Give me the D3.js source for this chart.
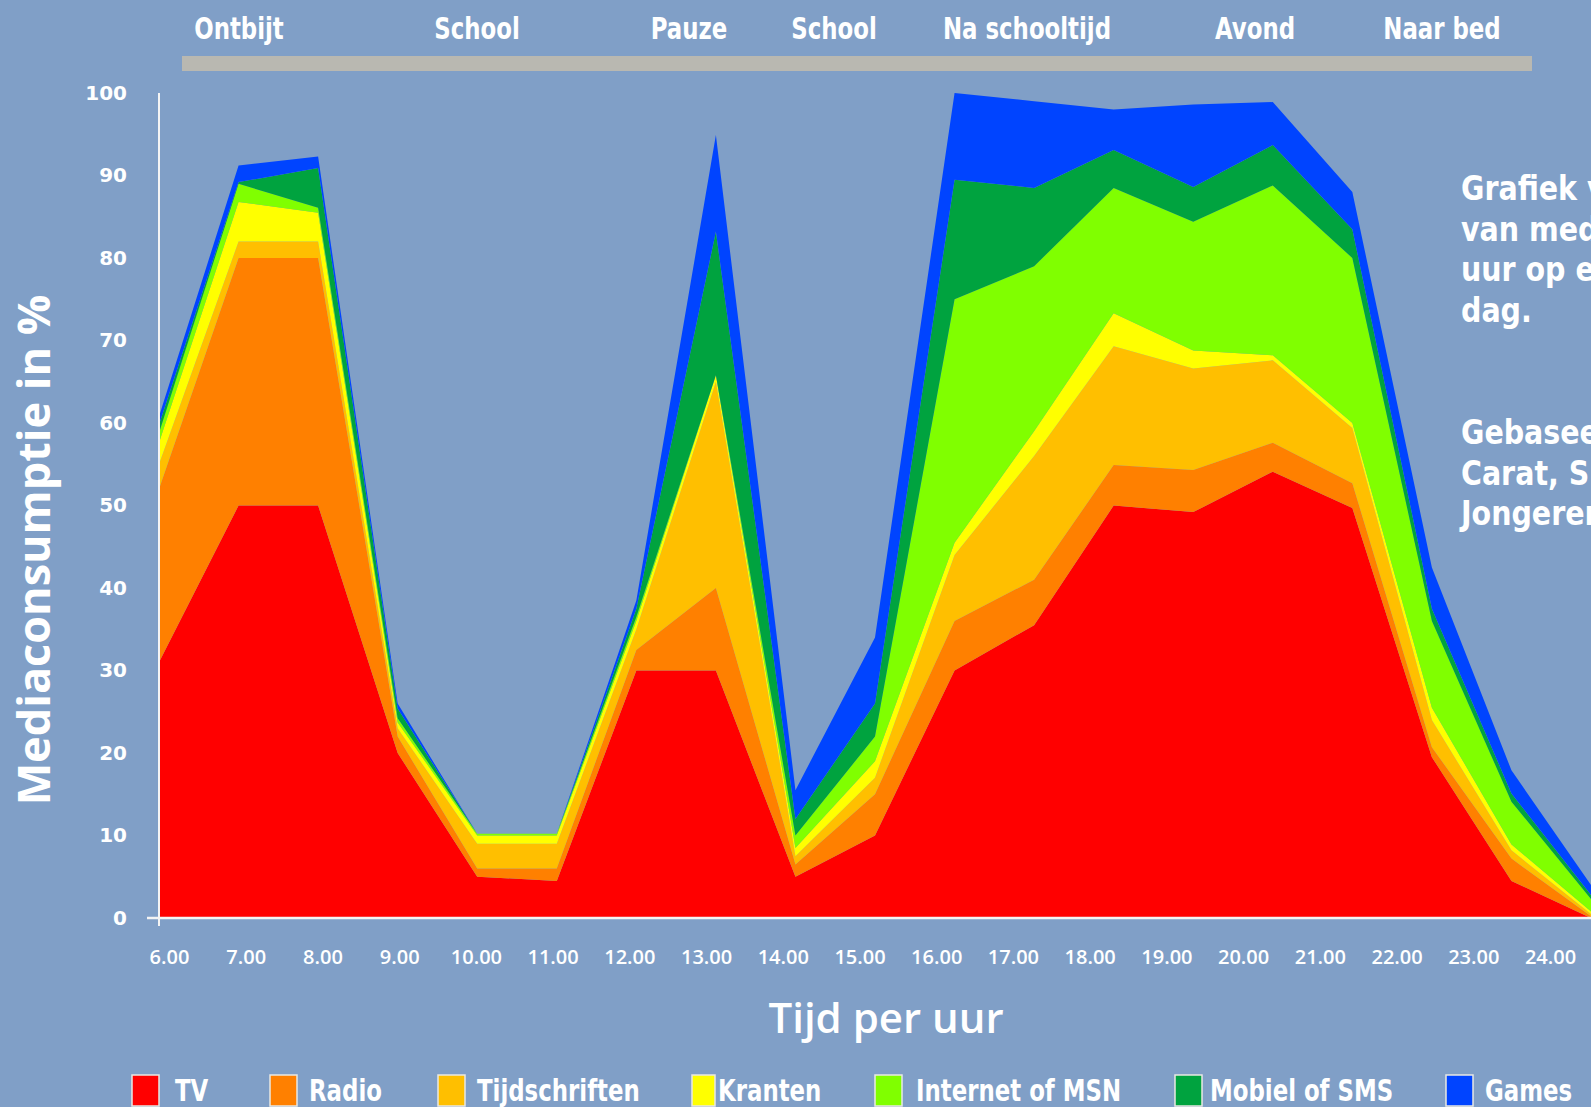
<!DOCTYPE html>
<html>
<head>
<meta charset="utf-8">
<script src="https://cdn.jsdelivr.net/npm/d3@7.9.0/dist/d3.min.js"></script>
<style>
  html, body { margin: 0; padding: 0; background: #809fc7; overflow: hidden; }
  svg { display: block; }
  .cond { font-family: 'DejaVu Sans Condensed', 'DejaVu Sans', sans-serif; font-weight: bold; fill: #fff; }
</style>
</head>
<body>
<svg id="chart" width="1591" height="1107"></svg>
<script>
// --- data ---
const hours = [6, 7, 8, 9, 10, 11, 12, 13, 14, 15, 16, 17, 18, 19, 20, 21, 22, 23, 24];
const hourLabels = ['6.00', '7.00', '8.00', '9.00', '10.00', '11.00', '12.00', '13.00', '14.00',
  '15.00', '16.00', '17.00', '18.00', '19.00', '20.00', '21.00', '22.00', '23.00', '24.00'];
const seriesNames = ['TV', 'Radio', 'Tijdschriften', 'Kranten', 'Internet of MSN', 'Mobiel of SMS', 'Games'];
const tv       = [31, 50, 50, 20, 5, 4.5, 30, 30, 5, 10, 30, 35.5, 50, 49.2, 54.1, 49.7, 19.5, 4.5, 0];
const radio    = [21, 30, 30, 2, 1, 1.5, 2.5, 10, 1.5, 5, 6, 5.5, 4.9, 5.1, 3.5, 3, 1.2, 2.7, 0.2];
const tijd     = [3, 2, 2, 1, 3, 3, 2.5, 25, 1, 2, 8, 15, 14.4, 12.3, 10, 6.7, 3.3, 1, 0.3];
const kranten  = [2.6, 4.8, 3.5, 0.7, 1, 1, 1, 0.8, 1, 2, 1.5, 3, 4, 2.2, 0.6, 0.6, 1.5, 0.7, 0.3];
const internet = [1.2, 2.2, 0.6, 0.5, 0.2, 0.2, 0.5, 0, 1.5, 3, 29.5, 20, 15.2, 15.6, 20.6, 20, 10.5, 5.2, 1.5];
const mobiel   = [1, 0.2, 4.8, 1.2, 0, 0, 1, 17.4, 2, 4, 14.5, 9.5, 4.6, 4.2, 4.9, 3.5, 1.5, 1, 0.5];
const games    = [1, 2, 1.4, 0.6, 0, 0, 1, 11.7, 3.5, 8, 10.5, 10.5, 4.9, 10, 5.2, 4.5, 5, 2.8, 1.2];
const yTicks = [0, 10, 20, 30, 40, 50, 60, 70, 80, 90, 100];
const periods = ['Ontbijt', 'School', 'Pauze', 'School', 'Na schooltijd', 'Avond', 'Naar bed'];
// the side note runs off the right edge in the original, as here
const noteLines1 = ['Grafiek verdeling', 'van mediagebruik per', 'uur op een gemiddelde', 'dag.'];
const noteLines2 = ['Gebaseerd op', 'Carat, SKO,', 'Jongerenonderzoek'];

const colors = ['#ff0000', '#ff8000', '#ffbf00', '#ffff00', '#80ff00', '#00a33f', '#0044ff'];

// --- layout ---
const W = 1591, H = 1107;
const periodX = [239, 477, 689, 834, 1027, 1255, 1442];
const legendX = [132, 270, 438, 692, 875, 1175, 1446];
const legendGap = [43, 39, 39, 26, 41, 35, 39];
const squeeze = 0.82;

const svg = d3.select('#chart');
svg.append('rect').attr('width', W).attr('height', H).attr('fill', '#809fc7');

const x = d3.scaleLinear().domain([6, 24]).range([159, 1591]);
const y = d3.scaleLinear().domain([0, 100]).range([918, 93]);
const xLab = d3.scalePoint().domain(hourLabels).range([169, 1550]);

const rows = hours.map((h, i) => ({
  hour: h,
  'TV': tv[i], 'Radio': radio[i], 'Tijdschriften': tijd[i], 'Kranten': kranten[i],
  'Internet of MSN': internet[i], 'Mobiel of SMS': mobiel[i], 'Games': games[i]
}));

const stacked = d3.stack().keys(seriesNames)(rows);

const area = d3.area()
  .x(d => x(d.data.hour))
  .y0(d => y(d[0]))
  .y1(d => y(d[1]));

svg.append('g')
  .selectAll('path')
  .data(stacked)
  .join('path')
  .attr('d', area)
  .attr('fill', (d, i) => colors[i]);

// axes
svg.append('line')
  .attr('x1', 147).attr('x2', W)
  .attr('y1', y(0)).attr('y2', y(0))
  .attr('stroke', '#f4f4f4').attr('stroke-width', 2.5);
svg.append('line')
  .attr('x1', x(6)).attr('x2', x(6))
  .attr('y1', y(100)).attr('y2', y(0) + 8)
  .attr('stroke', '#f4f4f4').attr('stroke-width', 2);

const yAxis = svg.append('g')
  .attr('transform', `translate(${x(6)},0)`)
  .call(d3.axisLeft(y).tickValues(yTicks).tickSize(0).tickPadding(32));
yAxis.select('.domain').remove();
yAxis.selectAll('text')
  .attr('fill', '#fff')
  .style('font-family', "'DejaVu Sans', sans-serif")
  .style('font-weight', 'bold')
  .style('font-size', '20px');

const xAxis = svg.append('g')
  .attr('transform', `translate(0,${y(0)})`)
  .call(d3.axisBottom(xLab).tickSize(0).tickPadding(32));
xAxis.select('.domain').remove();
xAxis.selectAll('text')
  .attr('fill', '#fff')
  .style('font-family', "'Open Sans', sans-serif")
  .style('font-weight', '600')
  .style('font-size', '20px');

// axis titles
svg.append('text')
  .attr('x', 886).attr('y', 1033)
  .attr('text-anchor', 'middle')
  .attr('fill', '#fff')
  .style('font-family', "'Open Sans', sans-serif")
  .style('font-weight', '600')
  .style('font-size', '42px')
  .text('Tijd per uur');

svg.append('text')
  .attr('transform', 'translate(50,550) rotate(-90)')
  .attr('text-anchor', 'middle')
  .attr('fill', '#fff')
  .style('font-family', "'Open Sans', sans-serif")
  .style('font-weight', '700')
  .style('font-size', '45px')
  .text('Mediaconsumptie in %');

// period bar and labels
svg.append('rect')
  .attr('x', 182).attr('y', 56)
  .attr('width', 1350).attr('height', 15)
  .attr('fill', '#b9b8b1');

svg.append('g')
  .selectAll('text')
  .data(periods)
  .join('text')
  .attr('class', 'cond')
  .attr('transform', (d, i) => `translate(${periodX[i]},39) scale(${squeeze},1)`)
  .attr('text-anchor', 'middle')
  .style('font-size', '31px')
  .text(d => d);

// side note
const note = svg.append('g');
noteLines1.concat(noteLines2).forEach((t, i) => {
  const ty = i < noteLines1.length ? 200 + i * 40.6 : 444 + (i - noteLines1.length) * 40.6;
  note.append('text')
    .attr('class', 'cond')
    .attr('transform', `translate(1461,${ty}) scale(0.96,1)`)
    .style('font-size', '33px')
    .text(t);
});

// legend
const legend = svg.append('g');
seriesNames.forEach((name, i) => {
  legend.append('rect')
    .attr('x', legendX[i]).attr('y', 1075)
    .attr('width', i === 3 ? 23 : 27).attr('height', 31)
    .attr('fill', colors[i])
    .attr('stroke', '#e9e9e4').attr('stroke-width', 1.5);
  legend.append('text')
    .attr('class', 'cond')
    .attr('transform', `translate(${legendX[i] + legendGap[i]},1101) scale(${squeeze},1)`)
    .style('font-size', '31px')
    .text(name);
});
</script>
</body>
</html>
